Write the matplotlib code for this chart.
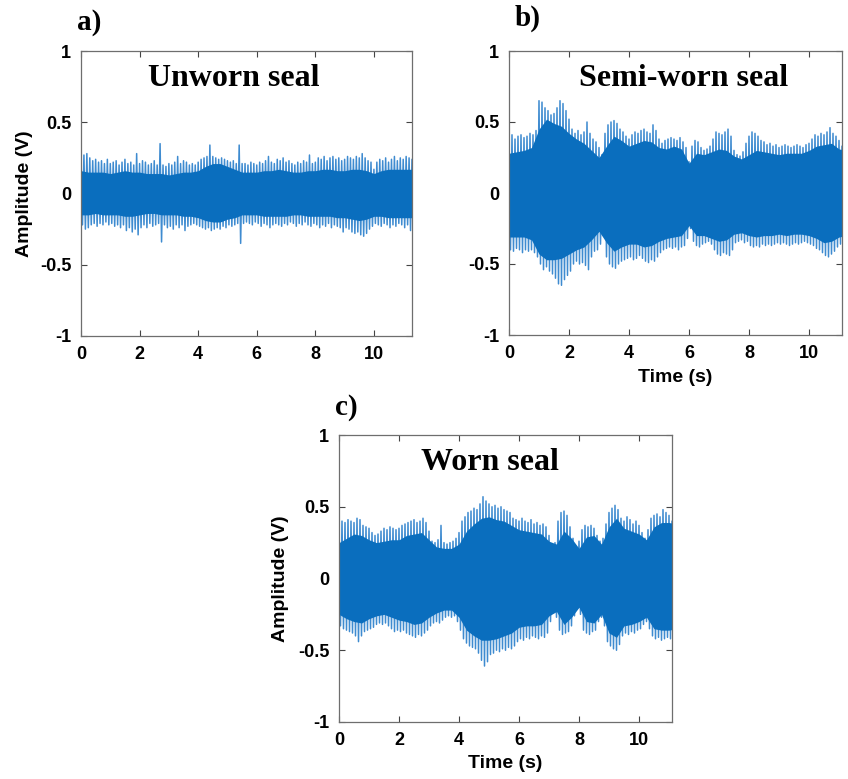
import numpy as np
import matplotlib
matplotlib.use("Agg")
import matplotlib.pyplot as plt

# ---------------- data ----------------
# peak envelopes on a 0.1 s grid
t_a = np.round(np.arange(0, 11.31, 0.1), 2)
a_up = [0.25,0.27,0.28,0.25,0.23,0.24,0.22,0.23,0.21,0.24,
        0.21,0.22,0.23,0.20,0.22,0.24,0.21,0.22,0.20,0.28,
        0.21,0.23,0.22,0.20,0.21,0.23,0.20,0.35,0.20,0.19,
        0.21,0.20,0.22,0.26,0.21,0.23,0.22,0.20,0.21,0.20,
        0.22,0.24,0.25,0.26,0.34,0.26,0.25,0.24,0.25,0.24,
        0.23,0.22,0.23,0.21,0.34,0.21,0.21,0.20,0.22,0.21,
        0.20,0.22,0.21,0.23,0.26,0.22,0.21,0.24,0.23,0.25,
        0.22,0.23,0.21,0.20,0.22,0.21,0.23,0.22,0.27,0.21,
        0.22,0.25,0.24,0.26,0.23,0.25,0.26,0.24,0.25,0.23,
        0.24,0.26,0.25,0.24,0.26,0.25,0.28,0.25,0.23,0.22,
        0.17,0.22,0.24,0.23,0.25,0.22,0.24,0.26,0.23,0.25,
        0.24,0.26,0.25,0.24]
a_lo = [-0.22,-0.25,-0.24,-0.22,-0.21,-0.23,-0.21,-0.22,-0.20,-0.22,
        -0.21,-0.23,-0.22,-0.24,-0.22,-0.26,-0.24,-0.27,-0.25,-0.29,
        -0.24,-0.22,-0.24,-0.21,-0.23,-0.22,-0.21,-0.34,-0.22,-0.24,
        -0.23,-0.25,-0.22,-0.24,-0.22,-0.26,-0.23,-0.22,-0.21,-0.22,
        -0.23,-0.24,-0.25,-0.24,-0.26,-0.25,-0.24,-0.25,-0.23,-0.24,
        -0.22,-0.23,-0.22,-0.21,-0.35,-0.21,-0.20,-0.21,-0.22,-0.20,
        -0.21,-0.23,-0.21,-0.22,-0.24,-0.22,-0.21,-0.22,-0.23,-0.21,
        -0.22,-0.20,-0.21,-0.23,-0.21,-0.22,-0.20,-0.22,-0.23,-0.21,
        -0.22,-0.24,-0.22,-0.23,-0.21,-0.24,-0.22,-0.23,-0.24,-0.27,
        -0.24,-0.25,-0.27,-0.28,-0.27,-0.29,-0.30,-0.28,-0.25,-0.23,
        -0.21,-0.22,-0.23,-0.21,-0.22,-0.24,-0.22,-0.23,-0.21,-0.22,
        -0.24,-0.22,-0.26,-0.23]

t_bc = np.round(np.arange(0, 11.11, 0.1), 2)
b_up = [0.40,0.41,0.38,0.40,0.41,0.39,0.40,0.42,0.41,0.44,
        0.65,0.64,0.60,0.58,0.55,0.56,0.60,0.65,0.63,0.58,
        0.52,0.45,0.42,0.44,0.41,0.43,0.50,0.42,0.38,0.36,
        0.32,0.27,0.42,0.48,0.50,0.51,0.49,0.45,0.43,0.40,
        0.38,0.41,0.43,0.42,0.44,0.45,0.43,0.42,0.48,0.44,
        0.38,0.35,0.37,0.38,0.39,0.38,0.37,0.39,0.36,0.32,
        0.22,0.33,0.37,0.36,0.32,0.30,0.31,0.33,0.38,0.43,
        0.42,0.41,0.43,0.45,0.40,0.30,0.27,0.26,0.29,0.35,
        0.40,0.43,0.42,0.40,0.37,0.36,0.34,0.35,0.33,0.34,
        0.32,0.33,0.34,0.33,0.32,0.33,0.34,0.33,0.32,0.34,
        0.35,0.38,0.41,0.40,0.42,0.41,0.43,0.46,0.42,0.40,
        0.37,0.33]
b_lo = [-0.40,-0.41,-0.39,-0.40,-0.42,-0.40,-0.41,-0.40,-0.42,-0.45,
        -0.50,-0.54,-0.52,-0.55,-0.57,-0.60,-0.64,-0.65,-0.61,-0.58,
        -0.55,-0.50,-0.48,-0.50,-0.49,-0.51,-0.54,-0.45,-0.41,-0.40,
        -0.36,-0.30,-0.45,-0.50,-0.52,-0.53,-0.50,-0.48,-0.47,-0.46,
        -0.45,-0.47,-0.46,-0.44,-0.46,-0.48,-0.49,-0.47,-0.48,-0.45,
        -0.42,-0.40,-0.39,-0.38,-0.39,-0.38,-0.40,-0.38,-0.37,-0.32,
        -0.25,-0.34,-0.37,-0.38,-0.36,-0.35,-0.34,-0.36,-0.40,-0.43,
        -0.44,-0.42,-0.43,-0.44,-0.40,-0.35,-0.34,-0.33,-0.35,-0.34,
        -0.37,-0.38,-0.37,-0.38,-0.36,-0.37,-0.36,-0.37,-0.36,-0.35,
        -0.36,-0.35,-0.36,-0.37,-0.36,-0.35,-0.36,-0.35,-0.34,-0.35,
        -0.36,-0.37,-0.39,-0.40,-0.42,-0.44,-0.45,-0.43,-0.41,-0.38,
        -0.36,-0.33]
c_up = [0.38,0.40,0.39,0.41,0.40,0.39,0.42,0.41,0.37,0.36,
        0.35,0.32,0.30,0.31,0.33,0.35,0.34,0.36,0.35,0.34,
        0.35,0.37,0.38,0.39,0.40,0.41,0.39,0.40,0.42,0.39,
        0.33,0.26,0.25,0.27,0.37,0.25,0.24,0.25,0.26,0.28,
        0.32,0.40,0.43,0.46,0.47,0.49,0.48,0.52,0.57,0.54,
        0.52,0.50,0.51,0.49,0.50,0.48,0.47,0.46,0.42,0.41,
        0.40,0.42,0.40,0.39,0.41,0.38,0.39,0.37,0.38,0.36,
        0.30,0.22,0.25,0.40,0.46,0.47,0.44,0.36,0.28,0.22,
        0.26,0.34,0.37,0.36,0.37,0.35,0.30,0.26,0.28,0.38,
        0.46,0.49,0.51,0.48,0.42,0.40,0.43,0.41,0.38,0.40,
        0.37,0.32,0.28,0.34,0.42,0.44,0.45,0.43,0.48,0.46,
        0.44,0.40]
c_lo = [-0.33,-0.35,-0.36,-0.37,-0.38,-0.40,-0.44,-0.40,-0.37,-0.36,
        -0.35,-0.34,-0.32,-0.31,-0.32,-0.31,-0.33,-0.35,-0.37,-0.36,
        -0.37,-0.36,-0.38,-0.39,-0.40,-0.41,-0.39,-0.40,-0.38,-0.36,
        -0.33,-0.31,-0.30,-0.31,-0.29,-0.27,-0.26,-0.27,-0.26,-0.30,
        -0.36,-0.42,-0.45,-0.47,-0.48,-0.49,-0.52,-0.57,-0.61,-0.58,
        -0.53,-0.52,-0.50,-0.51,-0.49,-0.50,-0.48,-0.49,-0.47,-0.44,
        -0.42,-0.43,-0.41,-0.42,-0.40,-0.41,-0.42,-0.40,-0.41,-0.38,
        -0.30,-0.23,-0.27,-0.36,-0.39,-0.38,-0.37,-0.33,-0.26,-0.21,
        -0.25,-0.36,-0.38,-0.39,-0.37,-0.36,-0.30,-0.27,-0.33,-0.44,
        -0.47,-0.49,-0.50,-0.46,-0.40,-0.38,-0.39,-0.37,-0.38,-0.36,
        -0.35,-0.32,-0.30,-0.35,-0.40,-0.42,-0.41,-0.43,-0.42,-0.41,
        -0.42,-0.40]

# dense core envelopes on a 0.25 s grid
tc_a = np.arange(0, 11.51, 0.25)
a_core_up = [0.16,0.15,0.15,0.15,0.14,0.15,0.16,0.15,0.15,0.14,0.14,0.14,
             0.13,0.14,0.15,0.15,0.16,0.19,0.21,0.21,0.19,0.17,0.15,0.15,
             0.15,0.16,0.16,0.17,0.16,0.15,0.15,0.16,0.16,0.17,0.17,0.16,
             0.16,0.17,0.17,0.16,0.14,0.16,0.17,0.17,0.17,0.17,0.17]
a_core_lo = [-0.15,-0.15,-0.14,-0.15,-0.15,-0.15,-0.16,-0.16,-0.15,-0.14,-0.14,-0.15,
             -0.15,-0.15,-0.16,-0.16,-0.17,-0.19,-0.20,-0.20,-0.18,-0.17,-0.15,-0.15,
             -0.15,-0.16,-0.16,-0.16,-0.16,-0.15,-0.15,-0.16,-0.16,-0.16,-0.16,-0.17,
             -0.17,-0.18,-0.19,-0.18,-0.16,-0.16,-0.17,-0.17,-0.17,-0.17,-0.17]
tc_bc = np.arange(0, 11.26, 0.25)
b_core_up = [0.28,0.29,0.30,0.32,0.45,0.52,0.49,0.47,0.42,0.38,0.35,0.30,
             0.25,0.33,0.40,0.37,0.33,0.35,0.37,0.36,0.32,0.31,0.33,0.31,
             0.21,0.28,0.27,0.29,0.31,0.30,0.26,0.24,0.27,0.30,0.29,0.28,
             0.27,0.28,0.28,0.28,0.30,0.33,0.34,0.35,0.31,0.30]
b_core_lo = [-0.31,-0.31,-0.31,-0.33,-0.43,-0.47,-0.47,-0.46,-0.43,-0.40,-0.38,-0.33,
             -0.27,-0.35,-0.41,-0.38,-0.36,-0.36,-0.38,-0.37,-0.34,-0.32,-0.31,-0.30,
             -0.23,-0.30,-0.30,-0.32,-0.34,-0.33,-0.29,-0.28,-0.30,-0.31,-0.30,-0.30,
             -0.29,-0.30,-0.29,-0.29,-0.30,-0.32,-0.35,-0.34,-0.31,-0.30]
c_core_up = [0.25,0.28,0.31,0.30,0.27,0.25,0.26,0.27,0.27,0.30,0.31,0.32,
             0.27,0.22,0.21,0.21,0.24,0.33,0.38,0.42,0.43,0.41,0.40,0.37,
             0.34,0.33,0.32,0.31,0.26,0.24,0.33,0.28,0.21,0.29,0.30,0.24,
             0.36,0.42,0.35,0.33,0.31,0.27,0.36,0.39,0.39,0.38]
c_core_lo = [-0.25,-0.28,-0.30,-0.31,-0.28,-0.26,-0.25,-0.27,-0.29,-0.30,-0.32,-0.31,
             -0.27,-0.24,-0.22,-0.22,-0.27,-0.36,-0.40,-0.43,-0.43,-0.42,-0.40,-0.38,
             -0.34,-0.33,-0.33,-0.32,-0.26,-0.23,-0.32,-0.27,-0.20,-0.30,-0.31,-0.25,
             -0.38,-0.41,-0.33,-0.32,-0.30,-0.27,-0.35,-0.36,-0.36,-0.35]

titles = ["Unworn seal", "Semi-worn seal", "Worn seal"]
panel_labels = ["a)", "b)", "c)"]
x_ticks = [0, 2, 4, 6, 8, 10]
y_ticks = [-1, -0.5, 0, 0.5, 1]
y_tick_labels = ["-1", "-0.5", "0", "0.5", "1"]
x_max = [11.3, 11.1, 11.1]

# ---------------- figure ----------------
W, H = 848, 779
fig = plt.figure(figsize=(W / 100, H / 100), dpi=100)
SANS = "Liberation Sans"
SERIF = "Liberation Serif"
BLUE = "#0A6EBE"
FRINGE = "#3E8BD0"


def px_axes(l, t, r, b):
    return fig.add_axes([l / W, 1 - b / H, (r - l) / W, (b - t) / H])


axes = [px_axes(81, 51, 412, 336), px_axes(509, 51, 842, 335), px_axes(339, 435, 672, 722)]
peaks = [(t_a, a_up, a_lo), (t_bc, b_up, b_lo), (t_bc, c_up, c_lo)]
cores = [(tc_a, a_core_up, a_core_lo), (tc_bc, b_core_up, b_core_lo), (tc_bc, c_core_up, c_core_lo)]

for i, ax in enumerate(axes):
    tp, up, lo = peaks[i]
    tcore, cu, cl = cores[i]
    tp = np.asarray(tp)
    step = tp[1] - tp[0]
    # oscillating trace: each sample swings from its upper peak to its lower peak
    xs = np.column_stack([tp, tp + step / 2]).ravel()
    ys = np.column_stack([up, lo]).ravel()
    ax.plot(xs, ys, color=FRINGE, lw=1.1, zorder=1)
    ax.fill_between(tcore, cl, cu, color=BLUE, lw=0, zorder=2)
    ax.set_xlim(0, x_max[i])
    ax.set_ylim(-1, 1)
    ax.set_xticks(x_ticks)
    ax.set_yticks(y_ticks)
    ax.set_yticklabels(y_tick_labels)
    ax.tick_params(direction="in", length=4, width=0.8, color="#444444",
                   top=True, right=True, labelsize=13, pad=7)
    for lab in ax.get_xticklabels() + ax.get_yticklabels():
        lab.set_fontfamily(SANS)
        lab.set_fontweight("bold")
    for sp in ax.spines.values():
        sp.set_color("#6E6E6E")
        sp.set_linewidth(0.9)
        sp.set_zorder(3)

# axis labels
for ax, xc in [(axes[0], -0.145), (axes[2], -0.150)]:
    ax.set_ylabel("Amplitude (V)", fontfamily=SANS, fontweight="bold", fontsize=14)
    ax.yaxis.set_label_coords(xc, 0.5)
for ax, yc in [(axes[1], -0.12), (axes[2], -0.115)]:
    ax.set_xlabel("Time (s)", fontfamily=SANS, fontweight="bold", fontsize=14)
    ax.xaxis.set_label_coords(0.5, yc)
    ax.xaxis.label.set_va("top")

# in-plot titles
for (x, y), s in zip([(234, 86), (684, 86), (490, 470)], titles):
    fig.text(x / W, 1 - y / H, s, fontfamily=SERIF, fontweight="bold",
             fontsize=23, ha="center", va="baseline")

# panel labels
for (x, y), s in zip([(89, 30), (528, 26), (346, 415)], panel_labels):
    fig.text(x / W, 1 - y / H, s, fontfamily=SERIF, fontweight="bold",
             fontsize=21, ha="center", va="baseline")

fig.savefig("out.png", dpi=100)
